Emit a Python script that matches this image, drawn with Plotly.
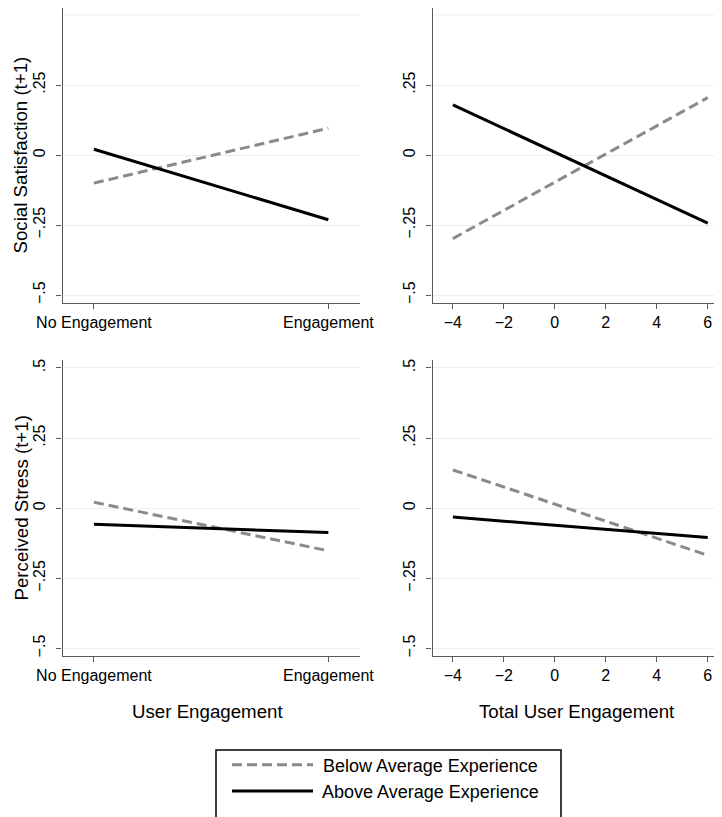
import plotly.graph_objects as go
from plotly.subplots import make_subplots

# ---- data ----
engagement_labels = ["No Engagement", "Engagement"]
engagement_x = [0, 1]
total_engagement_x = [-4, 6]
total_ticks = [-4, -2, 0, 2, 4, 6]

y_ticks = [-0.5, -0.25, 0, 0.25, 0.5]
y_ticklabels_top = ["\u2212.5", "\u2212.25", "0", ".25"]
y_ticklabels_bottom = ["\u2212.5", "\u2212.25", "0", ".25", ".5"]

# Social Satisfaction (t+1)
ss_below_cat = [-0.100, 0.096]
ss_above_cat = [0.021, -0.231]
ss_below_total = [-0.298, 0.205]
ss_above_total = [0.179, -0.243]

# Perceived Stress (t+1)
ps_below_cat = [0.021, -0.152]
ps_above_cat = [-0.057, -0.087]
ps_below_total = [0.136, -0.168]
ps_above_total = [-0.032, -0.105]

series_names = ["Below Average Experience", "Above Average Experience"]

# ---- figure ----
# the page body has an 8px margin, so the figure is placed at (8, 8)
OFF = 8
W, H = 714, 809
FONT = "Arial, Liberation Sans, Helvetica, sans-serif"
GRID = "#e6f0f2"
AXIS = "#5a5a5a"
GRAY = "#8a8a8a"

fig = make_subplots(rows=2, cols=2)

def fx(p):  # screen px -> paper x
    return (p - OFF) / W

def fy(p):  # screen px -> paper y
    return 1 - (p - OFF) / H

panels = [
    (1, 1, engagement_x, ss_below_cat, ss_above_cat),
    (1, 2, total_engagement_x, ss_below_total, ss_above_total),
    (2, 1, engagement_x, ps_below_cat, ps_above_cat),
    (2, 2, total_engagement_x, ps_below_total, ps_above_total),
]

for i, (r, c, xs, below, above) in enumerate(panels):
    fig.add_trace(go.Scatter(x=xs, y=below, mode="lines", name=" " + series_names[0],
                             line=dict(color=GRAY, width=3, dash="10px,5px"),
                             showlegend=(i == 0), legendrank=1), row=r, col=c)
    fig.add_trace(go.Scatter(x=xs, y=above, mode="lines", name=" " + series_names[1],
                             line=dict(color="black", width=3),
                             showlegend=(i == 0), legendrank=2), row=r, col=c)

x_dom_left = [fx(62.5), fx(360)]
x_dom_right = [fx(432.5), 1.0]
y_dom_top = [fy(303), fy(8)]
y_dom_bottom = [fy(656), fy(360)]
y_range_top = [-0.528, 0.525]
y_range_bottom = [-0.527, 0.528]

common_axis = dict(showline=True, linecolor=AXIS, linewidth=1.3,
                   ticks="outside", ticklen=5, tickcolor=AXIS, tickwidth=1.2,
                   zeroline=False, mirror=False, automargin=False,
                   tickfont=dict(family=FONT, size=16, color="black"))

for r in (1, 2):
    for c in (1, 2):
        xd = x_dom_left if c == 1 else x_dom_right
        yd = y_dom_top if r == 1 else y_dom_bottom
        if c == 1:
            fig.update_xaxes(domain=xd, range=[-0.134, 1.135], tickvals=engagement_x,
                             ticktext=engagement_labels, showgrid=False,
                             row=r, col=c, **common_axis)
        else:
            fig.update_xaxes(domain=xd, range=[-4.8, 6.56], tickvals=total_ticks,
                             ticktext=[("\u2212" + str(-t)) if t < 0 else str(t) for t in total_ticks],
                             showgrid=False, row=r, col=c, **common_axis)
        tv = y_ticks if r == 2 else y_ticks[:4]
        tt = y_ticklabels_bottom if r == 2 else y_ticklabels_top
        fig.update_yaxes(domain=yd, range=(y_range_top if r == 1 else y_range_bottom),
                         tickvals=tv, ticktext=tt, ticklabelstandoff=5,
                         tickangle=-90, showgrid=True, gridcolor=GRID, gridwidth=1.2,
                         row=r, col=c, **common_axis)

# top-row gridline at .5 (label absent in the reference)
for xref, yref in (("x domain", "y"), ("x2 domain", "y2")):
    fig.add_shape(type="line", xref=xref, yref=yref, x0=0, x1=1, y0=0.5, y1=0.5,
                  line=dict(color=GRID, width=1.2), layer="below")

annotations = [
    dict(text="Social Satisfaction (t+1)", x=0, y=fy(155), textangle=-90, xanchor="left"),
    dict(text="Perceived Stress (t+1)", x=0, y=fy(508), textangle=-90, xanchor="left"),
    dict(text="User Engagement", x=fx(207), y=fy(711), textangle=0, xanchor="center"),
    dict(text="Total User Engagement", x=fx(577), y=fy(711), textangle=0, xanchor="center"),
]
for a in annotations:
    fig.add_annotation(xref="paper", yref="paper", showarrow=False,
                       yanchor="middle",
                       font=dict(family=FONT, size=18.7, color="black"), **a)

# legend frame
fig.add_shape(type="rect", xref="paper", yref="paper",
              x0=fx(216), x1=fx(561), y0=-0.05, y1=fy(750),
              line=dict(color="black", width=1.5), fillcolor="rgba(0,0,0,0)")

fig.update_layout(
    template="none",
    width=W, height=H,
    margin=dict(l=0, r=0, t=0, b=0, autoexpand=False),
    paper_bgcolor="white", plot_bgcolor="white",
    showlegend=True,
    legend=dict(x=fx(227), y=fy(746.5), xanchor="left", yanchor="top",
                bgcolor="rgba(0,0,0,0)", borderwidth=0, itemwidth=81,
                font=dict(family=FONT, size=18, color="black"),
                traceorder="normal"),
    font=dict(family=FONT),
)

fig.write_html("out.html")
